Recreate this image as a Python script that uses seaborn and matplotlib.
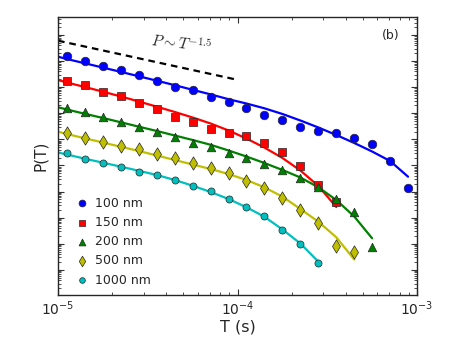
import numpy as np
import matplotlib
matplotlib.use("Agg")
import matplotlib.pyplot as plt
import seaborn as sns
from matplotlib.ticker import LogLocator, NullFormatter

# Time grid of the measured points (s), 0.1 decade apart
T_data = [1.12e-5, 1.41e-5, 1.78e-5, 2.24e-5, 2.82e-5, 3.55e-5, 4.47e-5, 5.62e-5,
          7.08e-5, 8.91e-5, 1.12e-4, 1.41e-4, 1.78e-4, 2.24e-4, 2.82e-4, 3.55e-4,
          4.47e-4, 5.62e-4, 7.08e-4, 8.91e-4]
# fit curves start at the left edge, then follow the same grid
T_fit = [1.0e-5] + T_data

labels = ['100 nm', '150 nm', '200 nm', '500 nm', '1000 nm']
colors = ['b', 'r', 'g', 'y', 'c']
markers = ['o', 's', '^', 'd', 'o']
sizes = [38, 34, 38, 46, 26]

# log10 P(T), measured points
logP_100 = [-0.805, -0.985, -1.176, -1.352, -1.544, -1.751, -1.992, -2.119, -2.387, -2.567,
            -2.785, -3.077, -3.257, -3.513, -3.690, -3.766, -3.958, -4.188, -4.828, -5.881]
logP_150 = [-1.751, -1.927, -2.172, -2.349, -2.594, -2.835, -3.130, -3.345, -3.613, -3.755,
            -3.858, -4.149, -4.471, -5.031, -5.736, -6.410]
logP_200 = [-2.785, -2.962, -3.153, -3.322, -3.513, -3.716, -3.920, -4.126, -4.303, -4.521,
            -4.701, -4.943, -5.172, -5.490, -5.812, -6.284, -6.770, -8.123]
logP_500 = [-3.766, -3.946, -4.088, -4.241, -4.379, -4.559, -4.724, -4.916, -5.107, -5.299,
            -5.582, -5.851, -6.257, -6.716, -7.222, -8.084, -8.303]
logP_1000 = [-4.533, -4.751, -4.916, -5.046, -5.238, -5.375, -5.556, -5.774, -5.966, -6.284,
             -6.590, -6.946, -7.483, -7.996, -8.724]

# log10 P(T), fitted curves
fit_100 = [-0.831, -0.920, -1.084, -1.249, -1.414, -1.582, -1.751, -1.923, -2.100, -2.276, -2.460,
           -2.625, -2.808, -3.027, -3.276, -3.544, -3.831, -4.138, -4.464, -4.828, -5.429]
fit_150 = [-1.724, -1.820, -1.992, -2.172, -2.356, -2.548, -2.747, -2.950, -3.161, -3.391, -3.659,
           -3.966, -4.310, -4.713, -5.192, -5.785, -6.590]
fit_200 = [-2.770, -2.854, -3.019, -3.180, -3.345, -3.513, -3.678, -3.851, -4.023, -4.207, -4.425,
           -4.655, -4.904, -5.172, -5.460, -5.835, -6.322, -6.954, -7.789]
fit_500 = [-3.705, -3.793, -3.958, -4.119, -4.284, -4.444, -4.617, -4.789, -4.962, -5.134, -5.326,
           -5.556, -5.835, -6.195, -6.667, -7.153, -7.751, -8.602]
fit_1000 = [-4.502, -4.579, -4.739, -4.893, -5.046, -5.203, -5.364, -5.556, -5.774, -6.015, -6.284,
            -6.598, -6.962, -7.452, -7.989, -8.686]

# guide line P ~ T^-1.5 (end points)
T_guide = [1.0e-5, 9.68e-5]
logP_guide = [-0.218, -1.697]

points = [logP_100, logP_150, logP_200, logP_500, logP_1000]
fits = [fit_100, fit_150, fit_200, fit_500, fit_1000]

sns.set_style("ticks")
plt.rcParams['font.family'] = ['DejaVu Sans']

fig = plt.figure(figsize=(4.63, 3.48), dpi=100)
ax = fig.add_axes([0.1253, 0.1523, 0.7754, 0.7989])
ax.set_xscale('log')
ax.set_yscale('log')

# fitted curves first, markers on top
for lp, col in zip(fits, colors):
    sns.lineplot(x=T_fit[:len(lp)], y=10 ** np.array(lp), color=col, lw=1.6, ax=ax,
                 legend=False, zorder=2)

sns.lineplot(x=T_guide, y=10 ** np.array(logP_guide), color='k', lw=1.6, ax=ax,
             legend=False, zorder=2, linestyle=(0, (3, 2.2)))

for lp, col, mk, sz, lab in zip(points, colors, markers, sizes, labels):
    sns.scatterplot(x=T_data[:len(lp)], y=10 ** np.array(lp), color=col, marker=mk, s=sz,
                    edgecolor='0.15', linewidth=0.5, label=lab, ax=ax, zorder=3)

ax.text(3.25e-5, 10 ** -0.82, r'$P\sim T^{-1.5}$', fontsize=11, rotation=-6,
        math_fontfamily='cm', ha='left', va='bottom')
ax.text(0.928, 0.932, '(b)', transform=ax.transAxes, fontsize=9, ha='center', va='center')

ax.set_xlim(1e-5, 1e-3)
ax.set_ylim(10 ** -9.962, 10 ** 0.69)

ax.yaxis.set_major_locator(LogLocator(base=10, numticks=30))
ax.yaxis.set_minor_locator(LogLocator(base=10, subs=np.arange(2, 10), numticks=30))
ax.yaxis.set_major_formatter(NullFormatter())
ax.yaxis.set_minor_formatter(NullFormatter())
ax.xaxis.set_minor_locator(LogLocator(base=10, subs=np.arange(2, 10), numticks=30))
ax.xaxis.set_minor_formatter(NullFormatter())

ax.tick_params(which='both', direction='in', top=True, right=True, color='0.2')
ax.tick_params(which='major', length=4, width=0.8, labelsize=10)
ax.tick_params(which='minor', length=2, width=0.6)
for s in ax.spines.values():
    s.set_color('0.15')
    s.set_linewidth(1.0)

ax.set_xlabel('T (s)', fontsize=11.5, labelpad=1)
ax.set_ylabel('P(T)', fontsize=11, labelpad=4)

ax.legend(loc='lower left', bbox_to_anchor=(0.05, 0.03), frameon=False, fontsize=9,
          handlelength=1.0, handletextpad=0.5, borderpad=0, borderaxespad=0,
          labelspacing=0.5, markerscale=0.8)

fig.savefig('out.png', dpi=100)
